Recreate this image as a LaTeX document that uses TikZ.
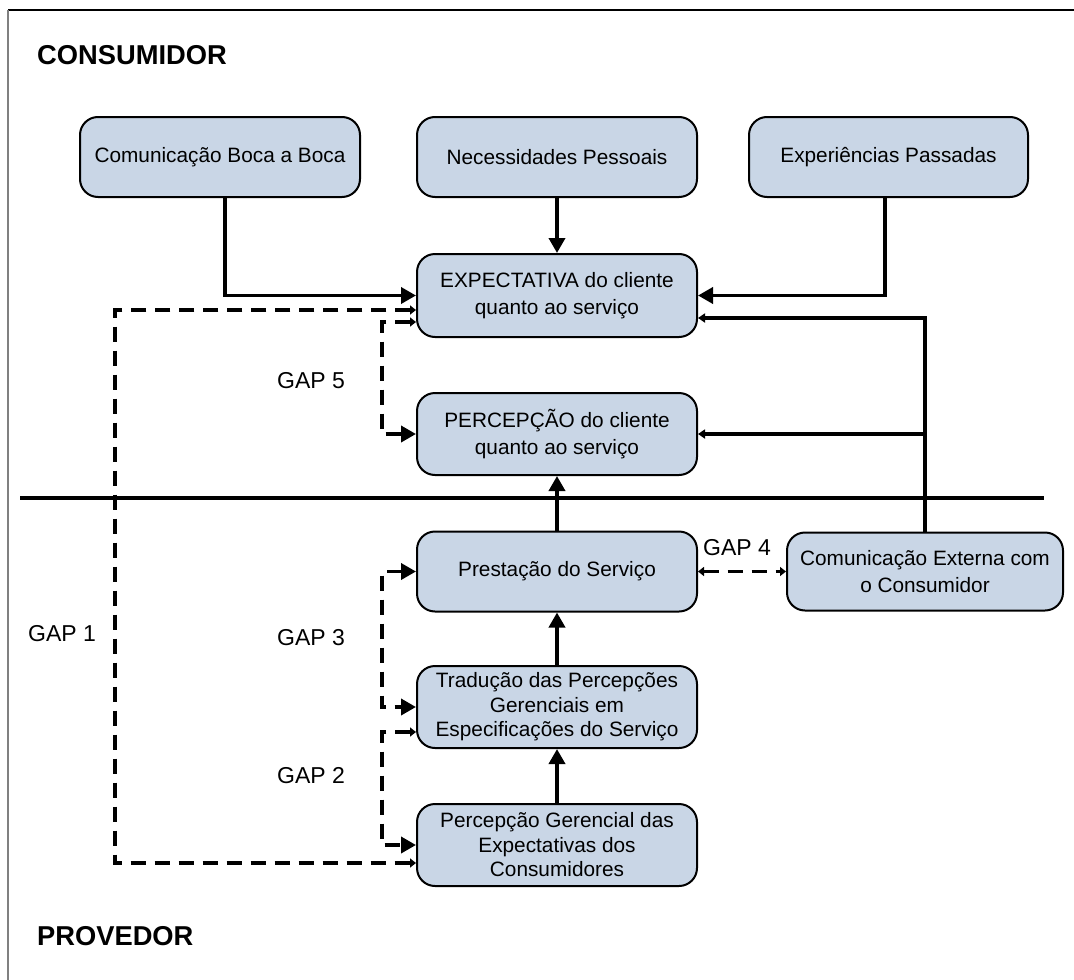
\documentclass[tikz,border=0pt]{standalone}
\usepackage{fontspec}
\setmainfont{Liberation Sans}
\usetikzlibrary{arrows.meta}
\definecolor{boxfill}{HTML}{C9D6E6}
\definecolor{framegray}{HTML}{808080}
\begin{document}
\begin{tikzpicture}[x=1pt,y=-1pt,
  box/.style={draw=black,line width=2pt,fill=boxfill,rounded corners=18pt,
    minimum width=280pt,minimum height=80pt,align=center,inner sep=0pt,
    font=\fontsize{20.8}{27.5}\selectfont},
  boxthree/.style={box,font=\fontsize{20.8}{24.5}\selectfont},
  conn/.style={line width=3.6pt,-{Triangle[length=15pt,width=16pt]}},
  thin conn/.style={line width=3.6pt,-{Triangle[length=7pt,width=9pt]}},
  dashline/.style={line width=3.6pt,dash pattern=on 15pt off 9pt},
  bigtip/.tip={Triangle[length=15pt,width=16pt]},
  smalltip/.tip={Triangle[length=6pt,width=9pt]},
  lab/.style={font=\fontsize{23}{26}\selectfont,inner sep=0pt},
  heading/.style={font=\bfseries\fontsize{27.3}{31}\selectfont,inner sep=0pt,anchor=west}
]
\useasboundingbox (0,0) rectangle (1074,980);
% frame
\coordinate (ftl) at (8,10);
\coordinate (ftr) at (1074,10);
\coordinate (fbl) at (8,980);
\draw[line width=1.5pt,black] (ftl) -- (ftr);
\draw[line width=1.5pt,framegray] (ftl) -- (fbl);

\node[heading] (cons) at (37,55) {CONSUMIDOR};
\node[heading] (prov) at (37,936) {PROVEDOR};

% boxes
\node[box] (boca) at (220,157) {Comunicação Boca a Boca};
\node[box] (nec)  at (557,157) {Necessidades Pessoais};
\node[box,minimum width=279pt] (expp) at (888.5,157) {Experiências Passadas};
\node[box,minimum height=83pt] (expect) at (557,295.5) {EXPECTATIVA do cliente\\quanto ao serviço};
\node[box,minimum height=82pt] (perc) at (557,434) {PERCEPÇÃO do cliente\\quanto ao serviço};
\node[box] (prest) at (557,571.5) {Prestação do Serviço};
\node[box,minimum width=276pt,minimum height=78pt] (ext) at (925,571.5) {Comunicação Externa com\\o Consumidor};
\node[boxthree,minimum height=82pt] (trad) at (557,707) {Tradução das Percepções\\Gerenciais em\\Especificações do Serviço};
\node[boxthree,minimum height=82pt] (pger) at (557,845) {Percepção Gerencial das\\Expectativas dos\\Consumidores};

% divider
\coordinate (dl) at (20,498);
\coordinate (dr) at (1044,498);
\draw[line width=3.6pt] (dl) -- (dr);

% solid connectors
\draw[conn] ([xshift=5pt]boca.south) |- (expect.west);
\draw[conn] (nec.south) -- (expect.north);
\draw[conn] ([xshift=-3.5pt]expp.south) |- (expect.east);
\draw[thin conn] (ext.north) |- ([yshift=-22.5pt]expect.east);
\draw[thin conn] (ext.north |- perc.east) -- (perc.east);
\draw[conn] (prest.north) -- (perc.south);
\draw[conn] (trad.north) -- (prest.south);
\draw[conn] (pger.north) -- (trad.south);

% dashed gap connectors
\coordinate (g1) at (115,600);
\coordinate (g5) at (382,380);
\coordinate (g3) at (382,640);
\coordinate (g2) at (382,790);
\draw[dashline,smalltip-smalltip] ([yshift=-14.5pt]expect.west) -| (g1) |- ([yshift=-18pt]pger.west);
\draw[dashline,smalltip-bigtip] ([yshift=-26.5pt]expect.west) -| (g5) |- (perc.west);
\draw[dashline,bigtip-bigtip] (prest.west) -| (g3) |- (trad.west);
\draw[dashline,smalltip-bigtip] ([yshift=-25pt]trad.west) -| (g2) |- (pger.west);
\draw[dashline,smalltip-smalltip] (prest.east) -- (ext.west);

% labels
\node[lab] (gap5) at (311,381) {GAP 5};
\node[lab] (gap4) at (737,548) {GAP 4};
\node[lab] (gap3) at (311,638) {GAP 3};
\node[lab] (gap2) at (311,776) {GAP 2};
\node[lab] (gap1) at (62,634) {GAP 1};
\end{tikzpicture}
\end{document}
